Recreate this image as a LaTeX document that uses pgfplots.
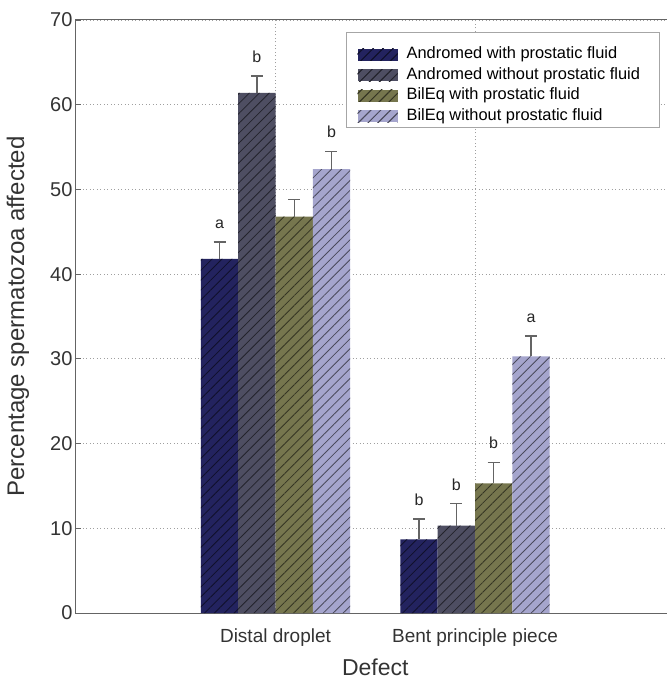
\documentclass[border=0pt]{standalone}
\usepackage{fontspec}
\setmainfont{Liberation Sans}
\usepackage{pgfplots}
\pgfplotsset{compat=1.18}
\usetikzlibrary{patterns.meta}

\definecolor{c1}{RGB}{35,35,95}
\definecolor{c2}{RGB}{78,78,98}
\definecolor{c3}{RGB}{118,118,78}
\definecolor{c4}{RGB}{165,165,205}
\definecolor{axgray}{RGB}{100,100,100}

\tikzset{
  s1/.style={fill=c1, draw=none, postaction={pattern={Lines[angle=45,distance=7bp,line width=0.8bp]}, pattern color=c1!45!black}},
  s2/.style={fill=c2, draw=none, postaction={pattern={Lines[angle=45,distance=7bp,line width=0.8bp]}, pattern color=c2!45!black}},
  s3/.style={fill=c3, draw=none, postaction={pattern={Lines[angle=45,distance=7bp,line width=0.8bp]}, pattern color=c3!45!black}},
  s4/.style={fill=c4, draw=none, postaction={pattern={Lines[angle=45,distance=7bp,line width=0.8bp]}, pattern color=c4!45!black}},
}

\begin{document}
\begin{tikzpicture}
\useasboundingbox (-76bp,-66bp) rectangle (591bp,613bp);
\clip (-76bp,-66bp) rectangle (591bp,613bp);
\begin{axis}[
  at={(0,0)}, anchor=south west, scale only axis,
  width=598.5bp, height=593bp,
  xmin=0, xmax=3, ymin=0, ymax=70,
  ybar=0pt, bar width=37.3bp,
  xtick={1,2}, xticklabels={Distal droplet, Bent principle piece},
  ytick={0,10,...,70},
  /pgf/number format/assume math mode=true,
  tick label style={font=\fontsize{20bp}{24bp}\selectfont, text=black!80},
  xticklabel style={font=\fontsize{19bp}{23bp}\selectfont, anchor=base, yshift=-29bp},
  xlabel={Defect},
  ylabel={Percentage spermatozoa affected},
  xlabel style={font=\fontsize{23bp}{27bp}\selectfont, at={(axis description cs:0.5,-0.1046)}, anchor=base, text=black!80},
  ylabel style={font=\fontsize{24bp}{28bp}\selectfont, at={(axis description cs:-0.0969,0.5)}, anchor=center, text=black!80},
  axis line style={axgray, line width=1bp},
  tick style={axgray, line width=0.8bp},
  tick align=inside, major tick length=5bp, tick pos=left,
  grid=major,
  major grid style={gray!75, dash pattern=on 1bp off 2.5bp, line width=0.8bp},
  legend style={at={(rel axis cs:0.9758,0.9798)}, anchor=north east,
    draw=gray!70, line width=0.8bp, fill=white,
    font=\fontsize{16.4bp}{20bp}\selectfont,
    inner xsep=11bp, inner ysep=1bp, row sep=0pt,
    nodes={text height=12bp, text depth=4bp, inner ysep=2.3bp, inner xsep=0bp},
    /tikz/every odd column/.append style={column sep=9bp}},
  legend cell align=left,
  error bars/y dir=plus, error bars/y explicit,
  error bars/error bar style={axgray, line width=1.3bp},
  error bars/error mark options={rotate=90, mark size=6bp, line width=1.3bp, axgray},
]
\addlegendimage{empty legend}
\addlegendentry[text height=11bp, text depth=0bp, inner ysep=0bp]{}
\addplot[s1, bar shift=-55.95bp, legend image code/.code={\path[s1] (0bp,-6bp) rectangle (40bp,6bp);}]
  coordinates {(1,41.8) +- (0,2.0) (2,8.7) +- (0,2.4)};
\addlegendentry{\makebox[242bp][l]{Andromed with prostatic fluid}}
\addplot[s2, bar shift=-18.65bp, legend image code/.code={\path[s2] (0bp,-6bp) rectangle (40bp,6bp);}]
  coordinates {(1,61.4) +- (0,2.0) (2,10.3) +- (0,2.6)};
\addlegendentry{\makebox[242bp][l]{Andromed without prostatic fluid}}
\addplot[s3, bar shift=18.65bp, legend image code/.code={\path[s3] (0bp,-6bp) rectangle (40bp,6bp);}]
  coordinates {(1,46.8) +- (0,2.0) (2,15.3) +- (0,2.5)};
\addlegendentry{\makebox[242bp][l]{BilEq with prostatic fluid}}
\addplot[s4, bar shift=55.95bp, legend image code/.code={\path[s4] (0bp,-6bp) rectangle (40bp,6bp);}]
  coordinates {(1,52.4) +- (0,2.1) (2,30.3) +- (0,2.4)};
\addlegendentry{\makebox[242bp][l]{BilEq without prostatic fluid}}

\begin{scope}[every node/.style={font=\fontsize{16bp}{19bp}\selectfont, anchor=base, text=black!85}]
\node at (axis cs:0.7195,45.4) {a};
\node at (axis cs:0.9065,65.0) {b};
\node at (axis cs:1.2805,56.1) {b};
\node at (axis cs:1.7195,12.7) {b};
\node at (axis cs:1.9065,14.5) {b};
\node at (axis cs:2.0935,19.4) {b};
\node at (axis cs:2.2805,34.3) {a};
\end{scope}
\end{axis}
\end{tikzpicture}
\end{document}
